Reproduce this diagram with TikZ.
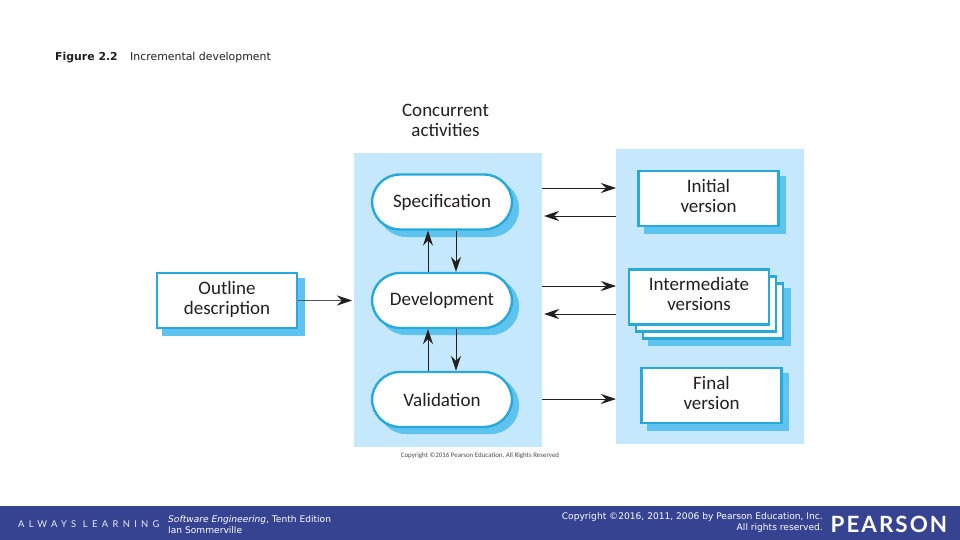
\documentclass[tikz,border=0pt]{standalone}
\usepackage{fontspec}
\usetikzlibrary{arrows.meta,positioning,calc}
\setmainfont{Carlito}
\newfontfamily\verd{DejaVu Sans}
\newfontfamily\logo[LetterSpace=9]{Lato}
\newfontfamily\always[LetterSpace=46]{Lato}
\definecolor{panelc}{HTML}{C5E8FC}
\definecolor{shadowc}{HTML}{5FC3F0}
\definecolor{edgec}{HTML}{27A9DC}
\definecolor{barc}{HTML}{364390}
\definecolor{inkc}{HTML}{231F20}
\newcommand\lift{\rule[-6pt]{0pt}{6pt}}
\tikzset{
  x=1pt,y=-1pt,
  panel/.style={fill=panelc,draw=none,inner sep=0pt,outer sep=0pt,anchor=north west},
  labeltext/.style={font=\fontsize{19}{20}\selectfont,text=inkc,align=center},
  boxnode/.style={draw=edgec,line width=2.4pt,fill=white,minimum width=140pt,minimum height=55pt,inner sep=0pt,outer sep=1.2pt,labeltext},
  pill/.style={boxnode,rounded corners=28pt},
  shade/.style={fill=shadowc,draw=none},
  arr/.style={draw=inkc,line width=1pt,-{Stealth[length=15pt,width=10pt,inset=5pt,color=inkc]}},
  foot/.style={text=white,font=\verd\fontsize{9.1}{11}\selectfont,inner sep=0pt},
}
\begin{document}
\begin{tikzpicture}
\useasboundingbox (0,0) rectangle (960,540);
\fill[white] (0,0) rectangle (960,540);
% panels
\node[panel,minimum width=188pt,minimum height=294pt] (leftp) at (354,153) {};
\node[panel,minimum width=188pt,minimum height=295pt] (rightp) at (616,149) {};
% title
\node[anchor=west,inner sep=0pt,font=\verd\bfseries\fontsize{10.9}{12}\selectfont,text=inkc] (figno) at (55,57.5) {Figure 2.2};
\node[anchor=west,inner sep=0pt,font=\verd\fontsize{10.9}{12}\selectfont,text=inkc] (figtitle) at (130,57.5) {Incremental development};
\node[labeltext] (conc) at (445.5,120) {Concurrent\\activities};
% shadows
\fill[shade,rounded corners=28pt] (378,180) rectangle (519,237);
\fill[shade,rounded corners=28pt] (378,278) rectangle (519,335);
\fill[shade,rounded corners=28pt] (378,377) rectangle (519,434);
\fill[shade] (162,278) rectangle (305,336);
\fill[shade] (644,176) rectangle (786,234);
\fill[shade] (648,288) rectangle (791,346);
\fill[shade] (647,373) rectangle (789,431);
% pills
\node[pill] (spec) at (442,202) {Specification};
\node[pill] (dev) at (442,300.5) {Development};
\node[pill] (val) at (442,399.5) {Validation};
% boxes
\node[boxnode] (outline) at (227,300.5) {Outline\\description\lift};
\node[boxnode] (init) at (708.5,198.5) {Initial\\version\lift};
\node[boxnode] (inter3) at (713,311) {};
\node[boxnode] (inter2) at (706,304) {};
\node[boxnode] (inter) at (699,297) {Intermediate\\versions\lift};
\node[boxnode] (final) at (711.5,395.5) {Final\\version\lift};
% guide coordinates
\coordinate (upx) at (428,0);
\coordinate (downx) at (456,0);
\coordinate (r1) at (0,188);
\coordinate (r2) at (0,216);
\coordinate (r3) at (0,286);
\coordinate (r4) at (0,314);
\coordinate (r5) at (0,399);
% connectors
\draw[arr] (dev.north -| upx) -- (spec.south -| upx);
\draw[arr] (spec.south -| downx) -- (dev.north -| downx);
\draw[arr] (val.north -| upx) -- (dev.south -| upx);
\draw[arr] (dev.south -| downx) -- (val.north -| downx);
\draw[arr,draw=inkc!75] (outline.east) -- ($(leftp.west |- outline.east)+(-2,0)$);
\draw[arr] (leftp.east |- r1) -- (rightp.west |- r1);
\draw[arr] (rightp.west |- r2) -- ($(leftp.east |- r2)+(2,0)$);
\draw[arr] (leftp.east |- r3) -- (rightp.west |- r3);
\draw[arr] (rightp.west |- r4) -- ($(leftp.east |- r4)+(2,0)$);
\draw[arr] (leftp.east |- r5) -- (rightp.west |- r5);
% small copyright
\node[inner sep=0pt,font=\fontsize{6.9}{7}\selectfont,text=inkc!80] (smallcopy) at (480,455.5) {Copyright ©2016 Pearson Education, All Rights Reserved};
% footer
\fill[barc] (0,506) rectangle (960,540);
\node[anchor=west,inner sep=0pt,text=white!90!barc,font=\always\fontsize{9.4}{10}\selectfont] (always) at (18,524) {ALWAYS LEARNING};
\node[foot,anchor=west,align=left] (book) at (168,525) {\textit{Software Engineering}, Tenth Edition\\Ian Sommerville};
\node[foot,anchor=east,align=right] (copy) at (823,522.5) {Copyright ©2016, 2011, 2006 by Pearson Education, Inc.\\All rights reserved.};
\node[anchor=west,inner sep=0pt,text=white,font=\logo\bfseries\fontsize{22.4}{23}\selectfont] (pearson) at (830.5,524.5) {PEARSON};
\end{tikzpicture}
\end{document}
